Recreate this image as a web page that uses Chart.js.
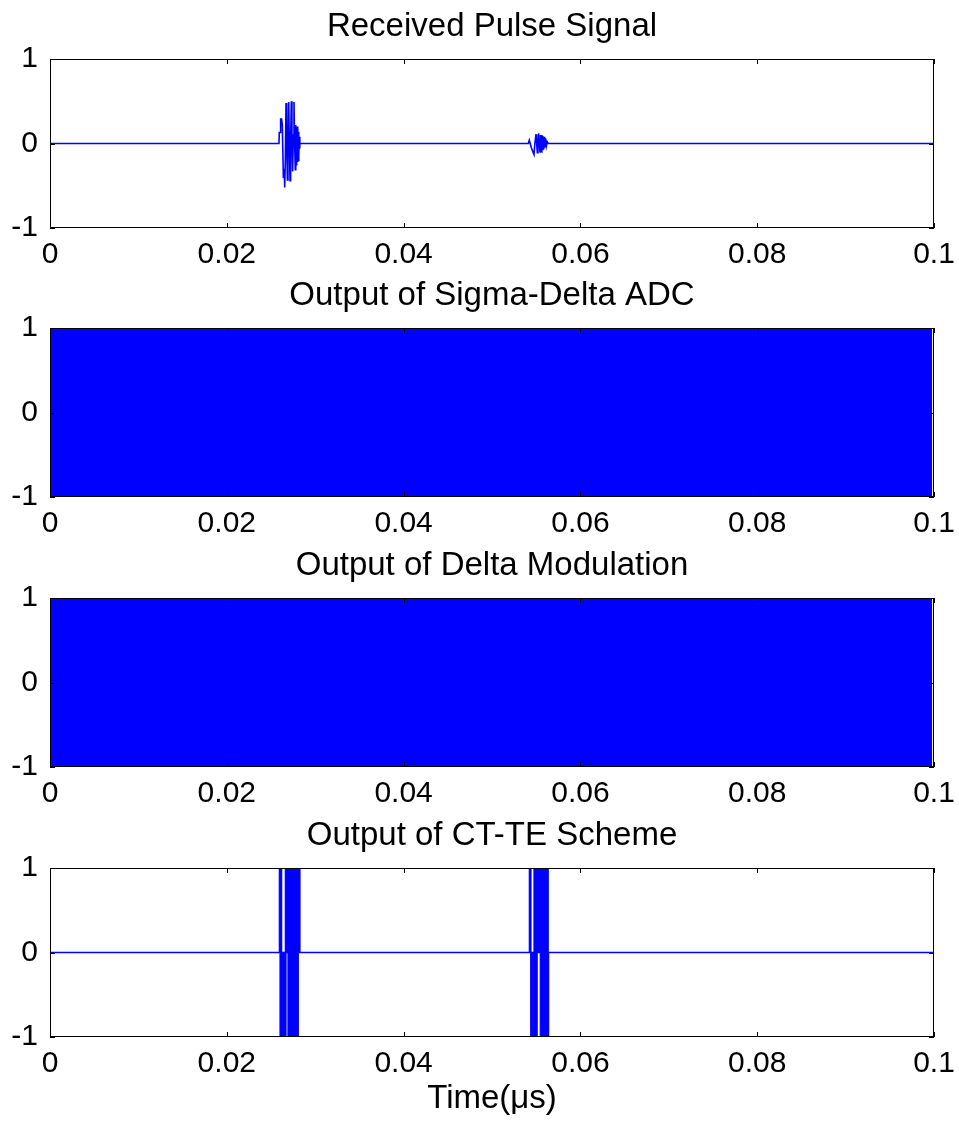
<!DOCTYPE html>
<html>
<head>
<meta charset="utf-8">
<title>Pulse signal encoders</title>
<script src="https://cdn.jsdelivr.net/npm/chart.js"></script>
<style>
  body { margin: 0; background: #fff; }
  #figure { position: relative; width: 959px; height: 1121px; }
  #figure canvas { position: absolute; left: 0; }
</style>
</head>
<body>
<div id="figure">
  <canvas id="rx" width="959" height="270" style="top:0px"></canvas>
  <canvas id="sd" width="959" height="270" style="top:269px"></canvas>
  <canvas id="dm" width="959" height="270" style="top:539px"></canvas>
  <canvas id="ct" width="959" height="312" style="top:809px"></canvas>
</div>
<script>
// axes
const xTicks = [0, 0.02, 0.04, 0.06, 0.08, 0.1];
const xTickLabels = ['0', '0.02', '0.04', '0.06', '0.08', '0.1'];
const yTicks = [-1, 0, 1];
const yTickLabels = ['-1', '0', '1'];

// received signal: direct pulse and a weaker echo
const rxTime = [
  0, 0.02590, 0.02594, 0.02605, 0.02609, 0.02620, 0.02628, 0.02634,
  0.02640, 0.02650, 0.02655, 0.02662, 0.02670, 0.02677, 0.02685, 0.02692,
  0.02700, 0.02707, 0.02715, 0.02722, 0.02730, 0.02737, 0.02745, 0.02752,
  0.02760, 0.02767, 0.02775, 0.02780, 0.02784, 0.02788, 0.02792, 0.02796,
  0.02800, 0.02804, 0.02808, 0.02812, 0.02816, 0.02820, 0.02824, 0.02828,
  0.05411, 0.05422, 0.05435, 0.05445, 0.05475, 0.05485, 0.05498, 0.05505,
  0.05513, 0.05520, 0.05528, 0.05535, 0.05543, 0.05550, 0.05555, 0.05560,
  0.05565, 0.05570, 0.05575, 0.05580, 0.05585, 0.05590, 0.05595, 0.05600,
  0.05605, 0.05610, 0.05615, 0.05625, 0.05637, 0.1
];
const rxValue = [
  0, 0, 0.13, 0.13, 0.29, 0.29, 0.22, 0.22,
  -0.41, -0.30, -0.52, -0.20, 0.48, 0.10, -0.43, 0,
  0.49, 0.05, -0.44, 0, 0.50, 0, -0.33, 0.10,
  0.49, 0, -0.31, 0.22, -0.25, 0.20, -0.24, 0.20,
  -0.22, 0.18, -0.20, 0.14, -0.15, 0.08, -0.06, 0,
  0, 0.04, -0.01, -0.05, -0.13, 0, 0.11, 0,
  -0.11, 0, 0.12, 0, -0.10, 0.10, -0.08, 0.10,
  -0.09, 0.09, -0.08, 0.08, -0.07, 0.08, -0.05, 0.06,
  -0.04, 0.05, -0.03, 0.02, 0, 0
];

// sigma-delta bitstream toggles between +1 and -1 too fast to resolve
const sdTime = [0, 0.0998];
const sdHigh = [1, 1];
const sdLow = [-1, -1];

// delta modulation output, same story
const dmTime = [0, 0.0998];
const dmHigh = [1, 1];
const dmLow = [-1, -1];

// CT-TE: +1 / -1 bursts only while the pulse is present
const ctUpStart = [0.02594, 0.02662, 0.05422, 0.05475, 0.05619];
const ctUpEnd = [0.02621, 0.02828, 0.05441, 0.05607, 0.05636];
const ctDownStart = [0.02602, 0.02692, 0.05438, 0.05464, 0.05546];
const ctDownEnd = [0.02670, 0.02809, 0.05450, 0.05511, 0.05641];

const FONT = '"Liberation Sans", Arial, Helvetica, sans-serif';
const BLUE = '#0000ff';

function points(ts, vs) {
  return ts.map((t, i) => ({ x: t, y: vs[i] }));
}

// rectangular bursts sitting on the zero line
function bursts(starts, ends, level) {
  const pts = [{ x: 0, y: 0 }];
  starts.forEach((s, i) => {
    pts.push({ x: s, y: 0 }, { x: s, y: level }, { x: ends[i], y: level }, { x: ends[i], y: 0 });
  });
  pts.push({ x: 0.1, y: 0 });
  return pts;
}

// box around the axes, inward ticks, title and x label
const frame = {
  id: 'frame',
  afterDraw(chart, args, opts) {
    const { ctx, chartArea: a, scales } = chart;
    ctx.save();
    ctx.strokeStyle = '#000';
    ctx.lineWidth = 1;
    ctx.strokeRect(a.left + 0.5, a.top + 0.5, a.right - a.left - 1, a.bottom - a.top - 1);
    ctx.beginPath();
    xTicks.forEach(v => {
      const x = Math.round(scales.x.getPixelForValue(v)) + 0.5;
      ctx.moveTo(x, a.bottom); ctx.lineTo(x, a.bottom - 5);
      ctx.moveTo(x, a.top); ctx.lineTo(x, a.top + 5);
    });
    yTicks.forEach(v => {
      const y = Math.round(scales.y.getPixelForValue(v)) + 0.5;
      ctx.moveTo(a.left, y); ctx.lineTo(a.left + 5, y);
      ctx.moveTo(a.right, y); ctx.lineTo(a.right - 5, y);
    });
    ctx.stroke();
    ctx.fillStyle = '#000';
    ctx.font = '33px ' + FONT;
    ctx.textAlign = 'center';
    ctx.textBaseline = 'alphabetic';
    const cx = (a.left + a.right) / 2;
    ctx.fillText(opts.title, cx, 36);
    if (opts.xlabel) ctx.fillText(opts.xlabel, cx, opts.xlabelY);
    ctx.restore();
  }
};

function makeChart(id, datasets, title, xlabel) {
  const canvas = document.getElementById(id);
  const h = canvas.height;
  return new Chart(canvas.getContext('2d'), {
    type: 'line',
    data: { datasets },
    plugins: [frame],
    options: {
      responsive: false,
      animation: false,
      devicePixelRatio: 1,
      layout: { padding: { top: 59, left: 0, right: 25, bottom: h - 268 } },
      elements: { point: { radius: 0 }, line: { tension: 0 } },
      plugins: {
        legend: { display: false },
        tooltip: { enabled: false },
        frame: { title, xlabel, xlabelY: 299 }
      },
      scales: {
        x: {
          type: 'linear', min: 0, max: 0.1,
          grid: { display: false, drawTicks: false },
          border: { display: false },
          afterBuildTicks: s => { s.ticks = xTicks.map(v => ({ value: v })); },
          afterFit: s => { s.height = 40; s.paddingLeft = 0; s.paddingRight = 0; },
          ticks: {
            padding: 9, color: '#000', maxRotation: 0, autoSkip: false,
            font: { size: 30, family: FONT },
            callback: (v, i) => xTickLabels[i]
          }
        },
        y: {
          type: 'linear', min: -1, max: 1,
          grid: { display: false, drawTicks: false },
          border: { display: false },
          afterBuildTicks: s => { s.ticks = yTicks.map(v => ({ value: v })); },
          afterFit: s => { s.width = 50; s.paddingTop = 0; s.paddingBottom = 0; },
          ticks: {
            padding: 12, color: '#000',
            font: { size: 30, family: FONT },
            callback: (v, i) => yTickLabels[i]
          }
        }
      }
    }
  });
}

const line = (data, extra) => Object.assign({
  data, borderColor: BLUE, borderWidth: 1.2, fill: false
}, extra);

makeChart('rx', [line(points(rxTime, rxValue), { borderWidth: 1.6 })], 'Received Pulse Signal');

makeChart('sd', [
  line(points(sdTime, sdHigh), { fill: '+1', backgroundColor: BLUE }),
  line(points(sdTime, sdLow))
], 'Output of Sigma-Delta ADC');

makeChart('dm', [
  line(points(dmTime, dmHigh), { fill: '+1', backgroundColor: BLUE }),
  line(points(dmTime, dmLow))
], 'Output of Delta Modulation');

makeChart('ct', [
  line(bursts(ctUpStart, ctUpEnd, 1), { fill: 'origin', backgroundColor: BLUE }),
  line(bursts(ctDownStart, ctDownEnd, -1), { fill: 'origin', backgroundColor: BLUE }),
  line([{ x: 0, y: 0 }, { x: 0.1, y: 0 }], { borderWidth: 1.5 })
], 'Output of CT-TE Scheme', 'Time(\u03bcs)');
</script>
</body>
</html>
